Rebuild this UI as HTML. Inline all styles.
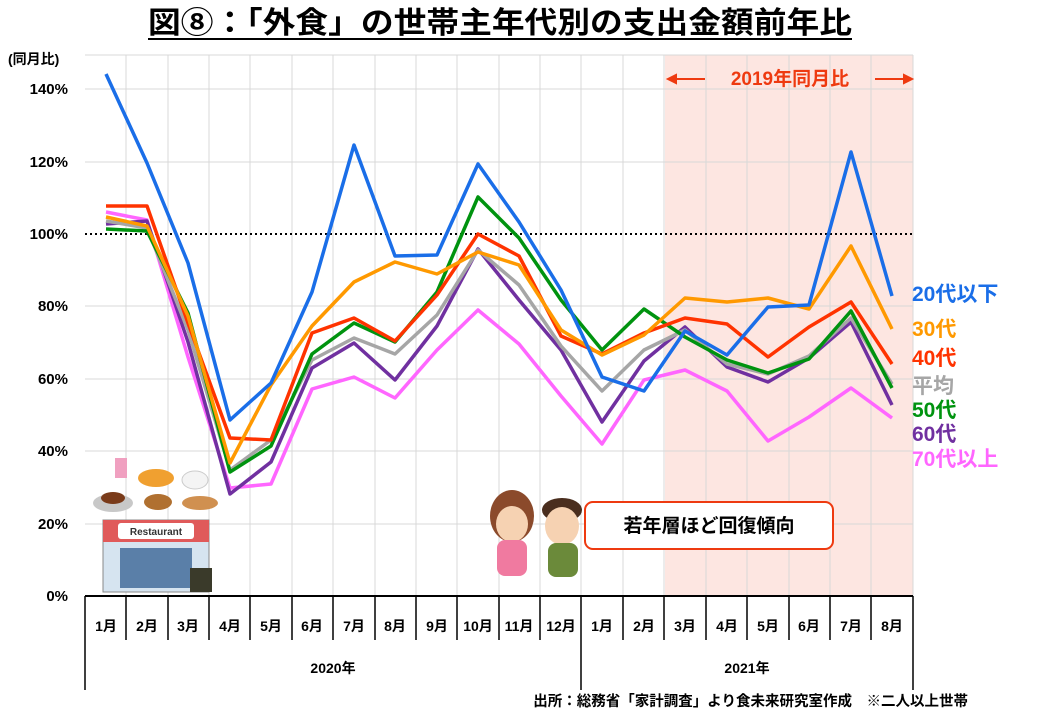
<!DOCTYPE html>
<html><head><meta charset="utf-8"><style>
body{margin:0;background:#fff;}
svg{display:block;font-family:"Liberation Sans","Noto Sans CJK JP",sans-serif;font-weight:bold;}
</style></head><body>
<svg width="1040" height="720" viewBox="0 0 1040 720" xmlns="http://www.w3.org/2000/svg">
<rect width="1040" height="720" fill="#fff"/>
<text x="148" y="33" font-size="30" textLength="704" lengthAdjust="spacingAndGlyphs" fill="#000">図⑧：「外食」の世帯主年代別の支出金額前年比</text>
<line x1="148" y1="39" x2="852" y2="39" stroke="#000" stroke-width="2"/>
<rect x="665" y="55" width="248" height="541" fill="#fde6e1"/>
<g stroke="#d8d8d8" stroke-width="1">
<line x1="85" y1="524" x2="913" y2="524"/><line x1="85" y1="451" x2="913" y2="451"/>
<line x1="85" y1="379" x2="913" y2="379"/><line x1="85" y1="306" x2="913" y2="306"/>
<line x1="85" y1="162" x2="913" y2="162"/><line x1="85" y1="89" x2="913" y2="89"/>
<line x1="85" y1="55" x2="913" y2="55"/>
<line x1="126" y1="55" x2="126" y2="596"/><line x1="168" y1="55" x2="168" y2="596"/><line x1="209" y1="55" x2="209" y2="596"/><line x1="250" y1="55" x2="250" y2="596"/><line x1="292" y1="55" x2="292" y2="596"/><line x1="333" y1="55" x2="333" y2="596"/><line x1="375" y1="55" x2="375" y2="596"/><line x1="416" y1="55" x2="416" y2="596"/><line x1="457" y1="55" x2="457" y2="596"/><line x1="499" y1="55" x2="499" y2="596"/><line x1="540" y1="55" x2="540" y2="596"/><line x1="581" y1="55" x2="581" y2="596"/><line x1="623" y1="55" x2="623" y2="596"/><line x1="664" y1="55" x2="664" y2="596"/><line x1="706" y1="55" x2="706" y2="596"/><line x1="747" y1="55" x2="747" y2="596"/><line x1="789" y1="55" x2="789" y2="596"/><line x1="830" y1="55" x2="830" y2="596"/><line x1="871" y1="55" x2="871" y2="596"/><line x1="913" y1="55" x2="913" y2="596"/>
</g>
<line x1="85" y1="234" x2="913" y2="234" stroke="#000" stroke-width="2" stroke-dasharray="2,3"/>
<g font-size="15" fill="#000" text-anchor="end">
<text x="68" y="94">140%</text><text x="68" y="167">120%</text><text x="68" y="239">100%</text>
<text x="68" y="311">80%</text><text x="68" y="384">60%</text><text x="68" y="456">40%</text>
<text x="68" y="529">20%</text><text x="68" y="601">0%</text>
</g>
<text x="8" y="64" font-size="14" fill="#000">(同月比)</text>
<line x1="85" y1="596" x2="913" y2="596" stroke="#000" stroke-width="2"/>
<g stroke="#000" stroke-width="1.5">
<line x1="85" y1="596" x2="85" y2="690"/><line x1="581" y1="596" x2="581" y2="690"/><line x1="913" y1="596" x2="913" y2="690"/>
<line x1="126" y1="596" x2="126" y2="640"/><line x1="168" y1="596" x2="168" y2="640"/><line x1="209" y1="596" x2="209" y2="640"/><line x1="250" y1="596" x2="250" y2="640"/><line x1="292" y1="596" x2="292" y2="640"/><line x1="333" y1="596" x2="333" y2="640"/><line x1="375" y1="596" x2="375" y2="640"/><line x1="416" y1="596" x2="416" y2="640"/><line x1="457" y1="596" x2="457" y2="640"/><line x1="499" y1="596" x2="499" y2="640"/><line x1="540" y1="596" x2="540" y2="640"/><line x1="623" y1="596" x2="623" y2="640"/><line x1="664" y1="596" x2="664" y2="640"/><line x1="706" y1="596" x2="706" y2="640"/><line x1="747" y1="596" x2="747" y2="640"/><line x1="789" y1="596" x2="789" y2="640"/><line x1="830" y1="596" x2="830" y2="640"/><line x1="871" y1="596" x2="871" y2="640"/>
</g>
<g font-size="14" fill="#000" text-anchor="middle">
<text x="106" y="631">1月</text><text x="147" y="631">2月</text><text x="188" y="631">3月</text><text x="230" y="631">4月</text><text x="271" y="631">5月</text><text x="312" y="631">6月</text><text x="354" y="631">7月</text><text x="395" y="631">8月</text><text x="437" y="631">9月</text><text x="478" y="631">10月</text><text x="519" y="631">11月</text><text x="561" y="631">12月</text><text x="602" y="631">1月</text><text x="644" y="631">2月</text><text x="685" y="631">3月</text><text x="727" y="631">4月</text><text x="768" y="631">5月</text><text x="809" y="631">6月</text><text x="851" y="631">7月</text><text x="892" y="631">8月</text>
<text x="333" y="673">2020年</text><text x="747" y="673">2021年</text>
</g>
<text x="790" y="85" font-size="19" fill="#ee3a10" text-anchor="middle">2019年同月比</text>
<g stroke="#ee3a10" stroke-width="2" fill="#ee3a10">
<line x1="670" y1="79" x2="705" y2="79"/><polygon points="668,79 676,75 676,83"/>
<line x1="875" y1="79" x2="910" y2="79"/><polygon points="912,79 904,75 904,83"/>
</g>
<g fill="none" stroke-width="3.5" stroke-linejoin="round">
<polyline stroke="#ff66ff" points="106,212 147,220 188,357 230,488 271,484 312,389 354,377 395,398 437,350 478,310 519,344 561,396 602,444 644,380 685,370 727,391 768,441 809,417 851,388 892,418"/>
<polyline stroke="#7030a0" points="106,224 147,221 188,342 230,494 271,462 312,368 354,343 395,380 437,326 478,249 519,300 561,350 602,422 644,361 685,327 727,367 768,382 809,358 851,322 892,405"/>
<polyline stroke="#a6a6a6" points="106,221 147,228 188,330 230,470 271,440 312,360 354,338 395,354 437,315 478,250 519,285 561,346 602,391 644,350 685,330 727,364 768,374 809,356 851,318 892,384"/>
<polyline stroke="#00930f" points="106,229 147,231 188,313 230,472 271,446 312,354 354,323 395,342 437,292 478,197 519,238 561,300 602,350 644,309 685,337 727,360 768,373 809,359 851,311 892,388"/>
<polyline stroke="#ff3300" points="106,206 147,206 188,323 230,438 271,440 312,333 354,318 395,341 437,295 478,234 519,256 561,336 602,354 644,333 685,318 727,324 768,357 809,327 851,302 892,364"/>
<polyline stroke="#ff9900" points="106,217 147,226 188,316 230,463 271,385 312,326 354,282 395,262 437,274 478,252 519,265 561,330 602,355 644,335 685,298 727,302 768,298 809,309 851,246 892,329"/>
<polyline stroke="#1a6ee8" points="106,74 147,163 188,263 230,420 271,383 312,292 354,145 395,256 437,255 478,164 519,222 561,290 602,377 644,391 685,331 727,355 768,307 809,305 851,152 892,296"/>
</g>
<g font-size="21">
<text x="912" y="301" fill="#1a6ee8">20代以下</text>
<text x="912" y="336" fill="#ff9900">30代</text>
<text x="912" y="365" fill="#ff3300">40代</text>
<text x="912" y="393" fill="#a6a6a6">平均</text>
<text x="912" y="417" fill="#00930f">50代</text>
<text x="912" y="441" fill="#7030a0">60代</text>
<text x="912" y="466" fill="#ff66ff">70代以上</text>
</g>
<rect x="585" y="502" width="248" height="47" rx="8" fill="#fff" stroke="#ee3a10" stroke-width="2"/>
<text x="709" y="532" font-size="19" text-anchor="middle" fill="#000">若年層ほど回復傾向</text>
<g>
<ellipse cx="512" cy="516" rx="22" ry="26" fill="#8b4a2b"/>
<ellipse cx="512" cy="524" rx="16" ry="18" fill="#f6d2b2"/>
<rect x="497" y="540" width="30" height="36" rx="8" fill="#f07aa0"/>
<ellipse cx="562" cy="510" rx="20" ry="12" fill="#4a2e1e"/>
<ellipse cx="562" cy="526" rx="17" ry="19" fill="#f6d2b2"/>
<rect x="548" y="543" width="30" height="34" rx="8" fill="#6b8a3a"/>
</g>
<g>
<ellipse cx="113" cy="503" rx="20" ry="9" fill="#c8c8c8"/><ellipse cx="113" cy="498" rx="12" ry="6" fill="#7a3b1a"/>
<ellipse cx="156" cy="478" rx="18" ry="9" fill="#f0a030"/>
<ellipse cx="158" cy="502" rx="14" ry="8" fill="#b07030"/>
<ellipse cx="195" cy="480" rx="13" ry="9" fill="#f4f4f4" stroke="#ccc"/>
<ellipse cx="200" cy="503" rx="18" ry="7" fill="#d09050"/>
<rect x="115" y="458" width="12" height="20" fill="#f0a0c0"/>
<rect x="103" y="520" width="106" height="72" fill="#d6e4f0" stroke="#888"/>
<rect x="103" y="520" width="106" height="22" fill="#e05a5a"/>
<rect x="118" y="523" width="76" height="16" rx="3" fill="#fff"/>
<text x="156" y="535" font-size="10" text-anchor="middle" fill="#333">Restaurant</text>
<rect x="120" y="548" width="72" height="40" fill="#5a7fa8"/>
<rect x="190" y="568" width="22" height="24" fill="#3a3a2a"/>
</g>
<text x="968" y="706" font-size="14.5" text-anchor="end" fill="#000">出所：総務省「家計調査」より食未来研究室作成　※二人以上世帯</text>
</svg>
</body></html>
